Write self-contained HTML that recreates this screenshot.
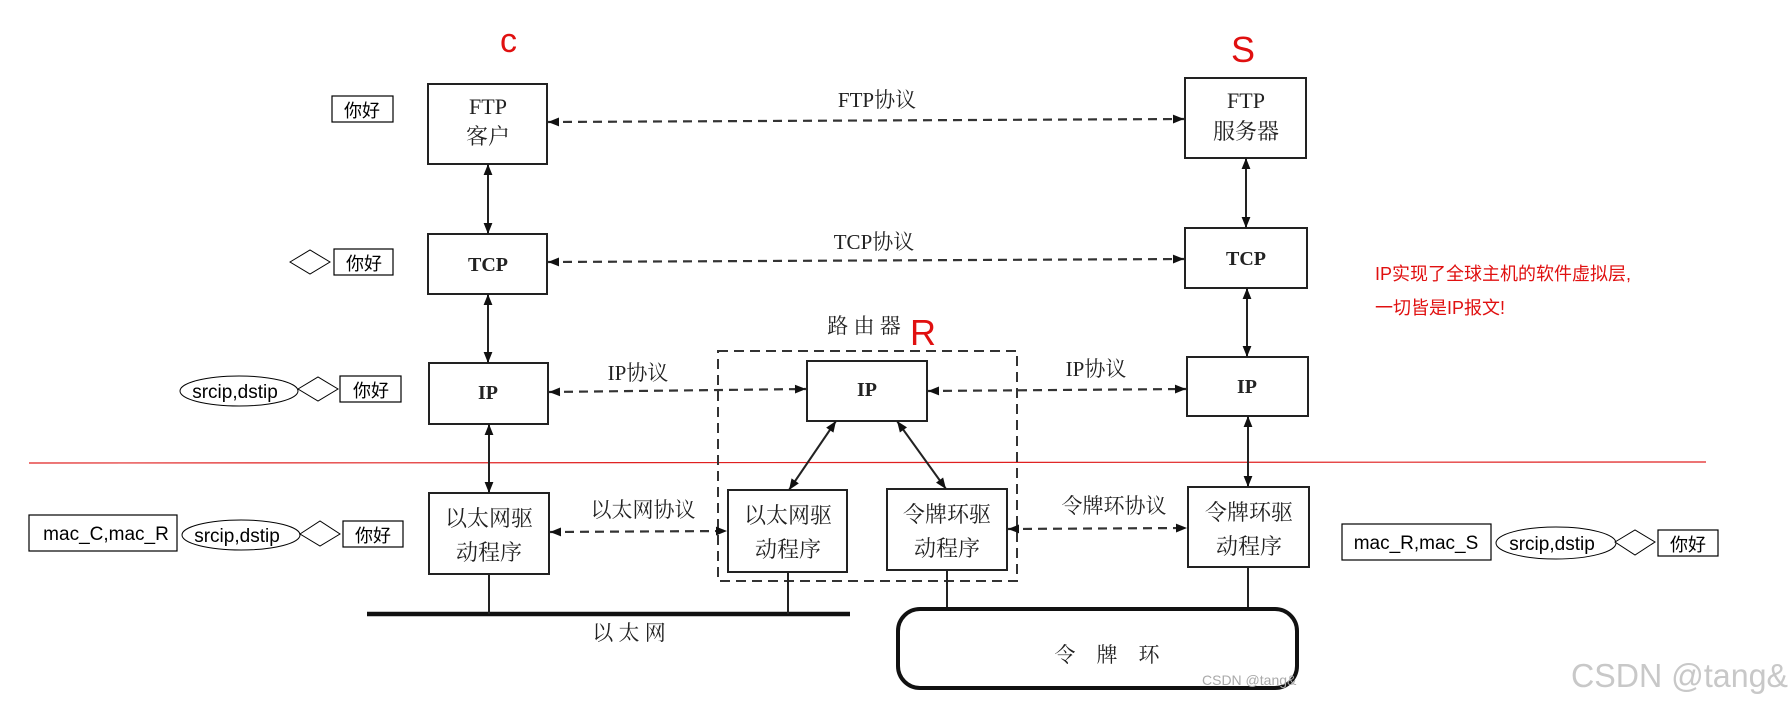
<!DOCTYPE html>
<html><head><meta charset="utf-8">
<style>
html,body{margin:0;padding:0;background:#fff;}
svg{display:block;}
.b{fill:#fff;stroke:#222;stroke-width:2;}
.t{font-family:"Liberation Serif","Noto Serif CJK SC",serif;fill:#222;}
.s{font-family:"Liberation Sans","Noto Sans CJK SC",sans-serif;fill:#000;}
.d{stroke:#333;stroke-width:2.2;stroke-dasharray:9,6;fill:none;}
.l{stroke:#222;stroke-width:2;fill:none;}
</style></head>
<body>
<svg width="1791" height="710" viewBox="0 0 1791 710" xmlns="http://www.w3.org/2000/svg">
<defs>
<marker id="a" viewBox="0 0 10 10" refX="10" refY="5" markerWidth="9" markerHeight="9" markerUnits="userSpaceOnUse" orient="auto-start-reverse">
<path d="M0,1 L10,5 L0,9 z" fill="#111"/></marker>
<marker id="v" viewBox="0 0 10 10" refX="10" refY="5" markerWidth="20" markerHeight="11" markerUnits="userSpaceOnUse" orient="auto-start-reverse">
<path d="M0,1 L10,5 L0,9 z" fill="#111"/></marker>
</defs>

<!-- red labels -->
<text x="500" y="52" font-family="Liberation Sans,sans-serif" font-size="34" fill="#e01010">c</text>
<text x="1231" y="62" font-family="Liberation Sans,sans-serif" font-size="36" fill="#e01010">S</text>
<text x="910" y="345" font-family="Liberation Sans,sans-serif" font-size="36" fill="#e01010">R</text>
<text x="1375" y="280" class="s" font-size="18" fill="#e01010" style="fill:#e01010">IP实现了全球主机的软件虚拟层,</text>
<text x="1375" y="314" class="s" font-size="18" style="fill:#e01010">一切皆是IP报文!</text>

<!-- red line -->
<line x1="29" y1="463" x2="1706" y2="462" stroke="#e02020" stroke-width="1.2"/>

<!-- router dashed box -->
<rect x="718" y="351" width="299" height="230" fill="none" stroke="#333" stroke-width="2" stroke-dasharray="10,6"/>
<text x="864" y="333" class="t" font-size="21" text-anchor="middle">路 由 器</text>

<!-- client boxes -->
<rect class="b" x="428" y="84" width="119" height="80"/>
<text x="488" y="114" class="t" font-size="22" text-anchor="middle">FTP</text>
<text x="488" y="144" class="t" font-size="22" text-anchor="middle">客户</text>
<rect class="b" x="428" y="234" width="119" height="60"/>
<text x="488" y="271" class="t" font-size="20" font-weight="bold" text-anchor="middle">TCP</text>
<rect class="b" x="429" y="363" width="119" height="61"/>
<text x="488" y="399" class="t" font-size="20" font-weight="bold" text-anchor="middle">IP</text>
<rect class="b" x="429" y="493" width="120" height="81"/>
<text x="489" y="526" class="t" font-size="22" text-anchor="middle">以太网驱</text>
<text x="489" y="560" class="t" font-size="22" text-anchor="middle">动程序</text>

<!-- server boxes -->
<rect class="b" x="1185" y="78" width="121" height="80"/>
<text x="1246" y="108" class="t" font-size="22" text-anchor="middle">FTP</text>
<text x="1246" y="139" class="t" font-size="22" text-anchor="middle">服务器</text>
<rect class="b" x="1185" y="228" width="122" height="60"/>
<text x="1246" y="265" class="t" font-size="20" font-weight="bold" text-anchor="middle">TCP</text>
<rect class="b" x="1187" y="357" width="121" height="59"/>
<text x="1247" y="393" class="t" font-size="20" font-weight="bold" text-anchor="middle">IP</text>
<rect class="b" x="1188" y="487" width="121" height="80"/>
<text x="1249" y="520" class="t" font-size="22" text-anchor="middle">令牌环驱</text>
<text x="1249" y="554" class="t" font-size="22" text-anchor="middle">动程序</text>

<!-- router boxes -->
<rect class="b" x="807" y="361" width="120" height="60"/>
<text x="867" y="396" class="t" font-size="20" font-weight="bold" text-anchor="middle">IP</text>
<rect class="b" x="728" y="490" width="119" height="82"/>
<text x="788" y="523" class="t" font-size="22" text-anchor="middle">以太网驱</text>
<text x="788" y="557" class="t" font-size="22" text-anchor="middle">动程序</text>
<rect class="b" x="887" y="489" width="120" height="81"/>
<text x="947" y="522" class="t" font-size="22" text-anchor="middle">令牌环驱</text>
<text x="947" y="556" class="t" font-size="22" text-anchor="middle">动程序</text>

<!-- vertical arrows -->
<line class="l" x1="488" y1="164" x2="488" y2="234" marker-start="url(#v)" marker-end="url(#v)"/>
<line class="l" x1="488" y1="294" x2="488" y2="363" marker-start="url(#v)" marker-end="url(#v)"/>
<line class="l" x1="489" y1="424" x2="489" y2="493" marker-start="url(#v)" marker-end="url(#v)"/>
<line class="l" x1="1246" y1="158" x2="1246" y2="228" marker-start="url(#v)" marker-end="url(#v)"/>
<line class="l" x1="1247" y1="288" x2="1247" y2="357" marker-start="url(#v)" marker-end="url(#v)"/>
<line class="l" x1="1248" y1="416" x2="1248" y2="487" marker-start="url(#v)" marker-end="url(#v)"/>
<line class="l" x1="836" y1="421" x2="789" y2="490" marker-start="url(#v)" marker-end="url(#v)"/>
<line class="l" x1="897" y1="421" x2="946" y2="489" marker-start="url(#v)" marker-end="url(#v)"/>

<!-- dashed protocol arrows -->
<line class="d" x1="548" y1="122" x2="1184" y2="119" marker-start="url(#v)" marker-end="url(#v)"/>
<text x="877" y="107" class="t" font-size="21" text-anchor="middle">FTP协议</text>
<line class="d" x1="548" y1="262" x2="1184" y2="259" marker-start="url(#v)" marker-end="url(#v)"/>
<text x="874" y="249" class="t" font-size="21" text-anchor="middle">TCP协议</text>
<line class="d" x1="549" y1="392" x2="806" y2="389" marker-start="url(#v)" marker-end="url(#v)"/>
<text x="638" y="380" class="t" font-size="21" text-anchor="middle">IP协议</text>
<line class="d" x1="928" y1="391" x2="1186" y2="389" marker-start="url(#v)" marker-end="url(#v)"/>
<text x="1096" y="376" class="t" font-size="21" text-anchor="middle">IP协议</text>
<line class="d" x1="550" y1="532" x2="727" y2="531" marker-start="url(#v)" marker-end="url(#v)"/>
<text x="643" y="517" class="t" font-size="21" text-anchor="middle">以太网协议</text>
<line class="d" x1="1008" y1="529" x2="1187" y2="528" marker-start="url(#v)" marker-end="url(#v)"/>
<text x="1114" y="513" class="t" font-size="21" text-anchor="middle">令牌环协议</text>

<!-- ethernet bus -->
<line x1="367" y1="614" x2="850" y2="614" stroke="#111" stroke-width="4.5"/>
<line class="l" x1="489" y1="574" x2="489" y2="614"/>
<line class="l" x1="788" y1="572" x2="788" y2="614"/>
<text x="629" y="640" class="t" font-size="21" text-anchor="middle">以 太 网</text>

<!-- token ring -->
<line class="l" x1="947" y1="570" x2="947" y2="609"/>
<line class="l" x1="1248" y1="567" x2="1248" y2="608"/>
<rect x="898" y="609" width="399" height="79" rx="22" ry="22" fill="#fff" stroke="#111" stroke-width="4"/>
<text x="1107" y="662" class="t" font-size="21" text-anchor="middle">令　牌　环</text>

<!-- left annotations -->
<rect x="332" y="96" width="61" height="26" fill="#fff" stroke="#000" stroke-width="1.2"/>
<text x="362" y="117" class="s" font-size="18" text-anchor="middle">你好</text>

<polygon points="290,262 310,250 330,262 310,274" fill="#fff" stroke="#000" stroke-width="1"/>
<rect x="334" y="249" width="59" height="26" fill="#fff" stroke="#000" stroke-width="1.2"/>
<text x="364" y="270" class="s" font-size="18" text-anchor="middle">你好</text>

<ellipse cx="239" cy="391" rx="59" ry="15" fill="#fff" stroke="#000" stroke-width="1"/>
<text x="235" y="398" class="s" font-size="19" text-anchor="middle">srcip,dstip</text>
<polygon points="298,389 318,377 338,389 318,401" fill="#fff" stroke="#000" stroke-width="1"/>
<rect x="340" y="376" width="61" height="26" fill="#fff" stroke="#000" stroke-width="1.2"/>
<text x="371" y="397" class="s" font-size="18" text-anchor="middle">你好</text>

<rect x="29" y="515" width="148" height="36" fill="#fff" stroke="#000" stroke-width="1.2"/>
<text x="106" y="540" class="s" font-size="19" text-anchor="middle">mac_C,mac_R</text>
<ellipse cx="241" cy="535" rx="59" ry="15" fill="#fff" stroke="#000" stroke-width="1"/>
<text x="237" y="542" class="s" font-size="19" text-anchor="middle">srcip,dstip</text>
<polygon points="300,534 320,521 340,534 320,546" fill="#fff" stroke="#000" stroke-width="1"/>
<rect x="343" y="521" width="60" height="26" fill="#fff" stroke="#000" stroke-width="1.2"/>
<text x="373" y="542" class="s" font-size="18" text-anchor="middle">你好</text>

<!-- right annotations -->
<rect x="1342" y="524" width="149" height="36" fill="#fff" stroke="#000" stroke-width="1.2"/>
<text x="1416" y="549" class="s" font-size="19" text-anchor="middle">mac_R,mac_S</text>
<ellipse cx="1556" cy="543" rx="60" ry="16" fill="#fff" stroke="#000" stroke-width="1"/>
<text x="1552" y="550" class="s" font-size="19" text-anchor="middle">srcip,dstip</text>
<polygon points="1615,542 1635,530 1655,542 1635,555" fill="#fff" stroke="#000" stroke-width="1"/>
<rect x="1658" y="530" width="60" height="26" fill="#fff" stroke="#000" stroke-width="1.2"/>
<text x="1688" y="551" class="s" font-size="18" text-anchor="middle">你好</text>

<!-- watermarks -->
<text x="1202" y="685" font-family="Liberation Sans,sans-serif" font-size="14" fill="#aaa">CSDN @tang&amp;</text>
<text x="1571" y="687" font-family="Liberation Sans,sans-serif" font-size="33" fill="#c8c8c8" textLength="217" lengthAdjust="spacingAndGlyphs">CSDN @tang&amp;</text>
</svg>
</body></html>
